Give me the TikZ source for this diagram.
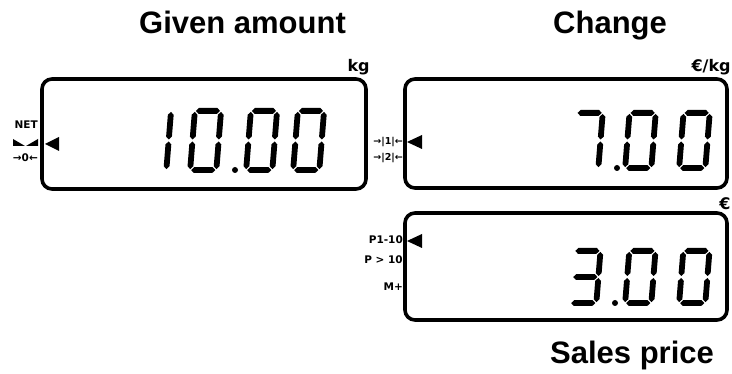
\documentclass[tikz,border=0pt]{standalone}
\usepackage{fontspec}
\setmainfont{Liberation Sans}
\newfontfamily\tagfont{DejaVu Sans}
\usetikzlibrary{positioning}

% seven segment digits (local px, y down)
\newcommand{\segw}{32}
\newcommand{\segh}{65}
\newcommand{\segth}{2.9}
\newcommand{\seggap}{1.0}
\newcommand{\hseg}[3]{\fill ({#1},{#3}) -- ({#1+\segth},{#3-\segth}) -- ({#2-\segth},{#3-\segth}) -- ({#2},{#3}) -- ({#2-\segth},{#3+\segth}) -- ({#1+\segth},{#3+\segth}) -- cycle;}
\newcommand{\vseg}[3]{\fill ({#1},{#2}) -- ({#1+\segth},{#2+\segth}) -- ({#1+\segth},{#3-\segth}) -- ({#1},{#3}) -- ({#1-\segth},{#3-\segth}) -- ({#1-\segth},{#2+\segth}) -- cycle;}
\newcommand{\lcdsega}{\hseg{\segth+\seggap}{\segw-\segth-\seggap}{-\segh+\segth}}
\newcommand{\lcdsegb}{\vseg{\segw-\segth}{-\segh+\segth+\seggap}{-\segh/2-\seggap}}
\newcommand{\lcdsegc}{\vseg{\segw-\segth}{-\segh/2+\seggap}{-\segth-\seggap}}
\newcommand{\lcdsegd}{\hseg{\segth+\seggap}{\segw-\segth-\seggap}{-\segth}}
\newcommand{\lcdsege}{\vseg{\segth}{-\segh/2+\seggap}{-\segth-\seggap}}
\newcommand{\lcdsegf}{\vseg{\segth}{-\segh+\segth+\seggap}{-\segh/2-\seggap}}
\newcommand{\lcdsegg}{\hseg{\segth+\seggap}{\segw-\segth-\seggap}{-\segh/2}}
\newcommand{\lcddigit}[3]{%
  \begin{scope}[shift={(#1,#2)}, xslant=0.08]
    \foreach \s in {#3} {\csname lcdseg\s\endcsname}
  \end{scope}}

\begin{document}
\begin{tikzpicture}[x=1pt, y=-1pt,
  lcdbox/.style={draw, line width=3.6pt, rounded corners=10pt, inner sep=0pt},
  title/.style={font=\fontsize{31}{36}\selectfont\bfseries, anchor=base west, inner sep=0pt},
  unit/.style={font=\tagfont\bfseries\fontsize{16}{19}\selectfont, inner sep=0pt},
  tag/.style={font=\tagfont\bfseries\fontsize{10.5}{12}\selectfont, anchor=east, inner sep=0pt},
  tare/.style={tag, font=\tagfont\bfseries\fontsize{9.5}{11}\selectfont}]
\useasboundingbox (0,0) rectangle (732,374);

% titles
\node[title] (given) at (139,34) {Given amount};
\node[title] (change) at (553,34) {Change};
\node[title] (sales) at (550,364) {Sales price};

% display frames
\node[lcdbox, minimum width=324pt, minimum height=110pt] (weight) at (204,134) {};
\node[lcdbox, minimum width=322pt, minimum height=109pt] (unitprice) at (566,133.5) {};
\node[lcdbox, minimum width=322pt, minimum height=107pt] (total) at (566,266.5) {};

% units
\node[unit, above left=2pt and -2pt of weight.north east] (kg) {kg};
\node[unit, above left=2pt and -2pt of unitprice.north east] (perkg) {€/kg};
\node[unit, above left=1pt and -2pt of total.north east] (euro) {€};

% indicators
\node[tag] (net) at (38,124.5) {NET};
\node[tag] (zero) at (38,158) {→0←};
\node[tare] (tare1) at (403,142) {→|1|←};
\node[tare] (tare2) at (403,158) {→|2|←};
\node[tag] (plu) at (403,240) {P1-10};
\node[tag] (plumore) at (403,260) {P > 10};
\node[tag] (memplus) at (403,287) {M+};
\fill (13,139) -- (25,146) -- (13,146) -- cycle;
\fill (38,139) -- (38,146) -- (26,146) -- cycle;
\fill (45,144) -- (59,137) -- (59,151) -- cycle;
\fill (407,142) -- (422,135) -- (422,149) -- cycle;
\fill (407,241) -- (422,234) -- (422,248) -- cycle;

% 10.00
\lcddigit{137}{173}{b,c}
\lcddigit{187}{173}{a,b,c,d,e,f}
\fill (235,170) circle (3pt);
\lcddigit{243}{173}{a,b,c,d,e,f}
\lcddigit{290}{173}{a,b,c,d,e,f}

% 7.00
\renewcommand{\segw}{32}
\renewcommand{\segh}{61}
\lcddigit{569}{171}{a,b,c}
\fill (617,168) circle (3pt);
\lcddigit{622}{171}{a,b,c,d,e,f}
\lcddigit{676}{171}{a,b,c,d,e,f}

% 3.00
\renewcommand{\segh}{58}
\lcddigit{567}{306}{a,b,c,d,g}
\fill (615,303) circle (3pt);
\lcddigit{622}{306}{a,b,c,d,e,f}
\lcddigit{676}{306}{a,b,c,d,e,f}
\end{tikzpicture}
\end{document}
